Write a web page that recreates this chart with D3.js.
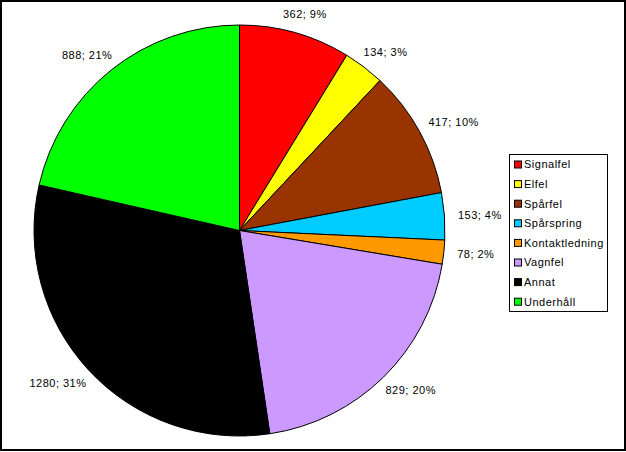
<!DOCTYPE html>
<html><head><meta charset="utf-8">
<script src="https://cdn.jsdelivr.net/npm/d3@7"></script>
<style>body{margin:0;background:#fff}svg{display:block}text{font-family:"Liberation Sans",Arial,sans-serif;font-size:11px;fill:#000;letter-spacing:0.5px}</style>
</head><body><svg id="c" width="626" height="452"></svg>
<script>
const categories = ["Signalfel","Elfel","Spårfel","Spårspring","Kontaktledning","Vagnfel","Annat","Underhåll"];
const values = [362,134,417,153,78,829,1280,888];
const colors = ["#FF0000","#FFFF00","#993300","#00CCFF","#FF9900","#CC99FF","#000000","#00FF00"];

const svg = d3.select("#c");
svg.append("rect").attr("x",1).attr("y",1).attr("width",624).attr("height",449)
  .attr("fill","#fff").attr("stroke","#000").attr("stroke-width",2);

const cx = 239.5, cy = 230.5, R = 205.5;
const total = d3.sum(values);
const data = categories.map((c,i)=>({cat:c,value:values[i],color:colors[i]}));
const pie = d3.pie().value(d=>d.value).sort(null);
const arcs = pie(data);
const arc = d3.arc().innerRadius(0).outerRadius(R);
const g = svg.append("g").attr("transform",`translate(${cx},${cy})`);
g.selectAll("path").data(arcs).join("path")
  .attr("d",arc).attr("fill",d=>d.data.color).attr("stroke","#000").attr("stroke-width",1);

// labels
const lbl = g.selectAll("text.l").data(arcs).join("text").attr("class","l")
  .text(d=>`${d.data.value}; ${Math.round(d.data.value/total*100)}%`)
  .attr("text-anchor","middle").attr("dy","0.35em");
lbl.each(function(d){
  const w = this.getComputedTextLength(), h = 11, Ra = 219;
  const a = (d.startAngle+d.endAngle)/2;
  const s = Math.sin(a), c = Math.cos(a);
  d3.select(this).attr("x", s*(Ra + w/2)).attr("y", -c*(Ra + h/2));
});

// legend
const lx = 509, ly = 154, lw = 98, lh = 157;
svg.append("rect").attr("x",lx+0.5).attr("y",ly+0.5).attr("width",lw).attr("height",lh)
  .attr("fill","#fff").attr("stroke","#000").attr("stroke-width",1);
const items = svg.append("g").selectAll("g").data(data).join("g")
  .attr("transform",(d,i)=>`translate(${lx},${ly+10.5+i*19.6})`);
items.append("rect").attr("x",5.5).attr("y",-3.5).attr("width",7).attr("height",7)
  .attr("fill",d=>d.color).attr("stroke","#000").attr("stroke-width",1);
items.append("text").attr("x",15).attr("y",0).attr("dy","0.35em").text(d=>d.cat);
</script></body></html>
